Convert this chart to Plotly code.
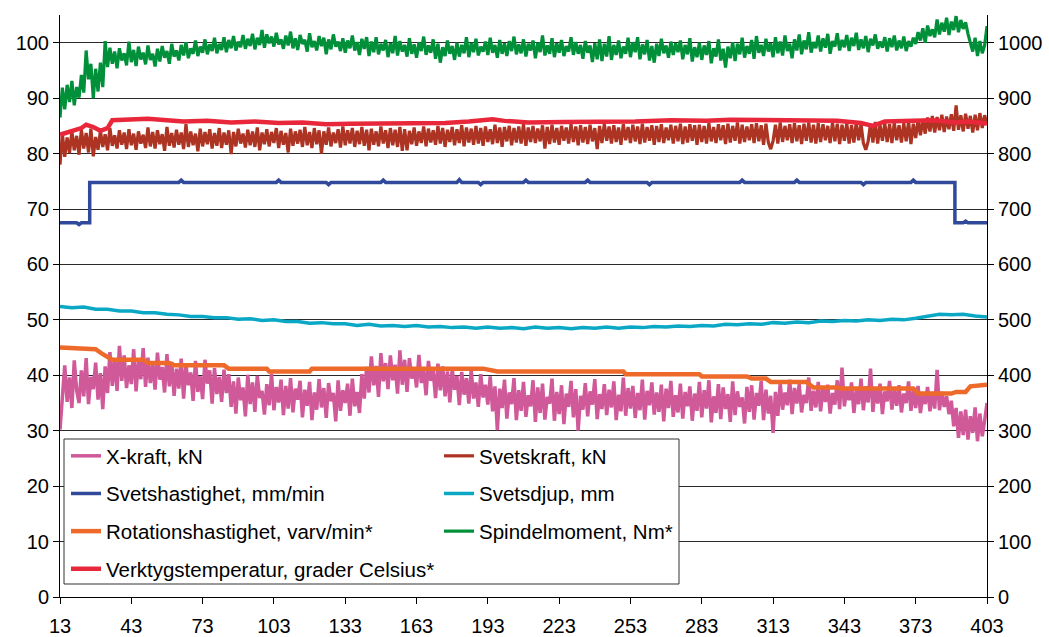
import plotly.graph_objects as go

# ---------------- data ----------------
x_all = list(range(13, 404))  # sample index 13..403

x_kraft = [
    30.2, 36.5, 41.8, 35.2, 39.6, 34.1, 42.7, 37.3, 35.0, 40.9,
    36.2, 43.1, 34.8, 39.7, 37.5, 42.3, 35.6, 40.4, 33.9, 41.6,
    36.8, 44.2, 38.1, 42.9, 37.2, 45.3, 39.0, 43.6, 37.7, 41.8,
    38.4, 44.7, 37.1, 42.5, 39.3, 44.9, 37.9, 43.2, 38.6, 42.0,
    37.4, 44.1, 39.2, 41.5, 36.9, 43.8, 38.0, 42.4, 36.3, 41.2,
    37.6, 43.0, 35.8, 41.9, 38.2, 40.5, 35.4, 42.6, 37.0, 39.8,
    35.7, 42.8, 38.5, 40.9, 34.9, 41.3, 36.6, 39.7, 35.2, 41.0,
    36.8, 40.2, 34.3, 38.9, 33.1, 39.6, 35.5, 37.8, 32.6, 40.1,
    34.8, 38.7, 33.4, 39.9, 35.9, 37.2, 32.9, 38.4, 34.6, 40.3,
    33.7, 37.9, 35.1, 39.2, 32.8, 38.1, 34.0, 39.5, 33.3, 37.6,
    35.6, 39.0, 32.4, 37.4, 34.5, 38.8, 31.9, 36.9, 33.8, 39.3,
    34.2, 37.7, 32.3, 38.6, 35.3, 36.8, 31.7, 39.1, 33.6, 37.3,
    35.0, 38.5, 32.7, 39.4, 34.4, 37.0, 33.2, 40.2, 35.8, 41.5,
    36.9, 43.4, 38.2, 41.7, 36.1, 44.0, 38.9, 42.2, 37.5, 43.6,
    39.1, 41.9, 36.7, 44.5, 38.3, 42.8, 37.0, 43.1, 39.4, 41.4,
    37.8, 43.7, 38.6, 41.1, 36.4, 42.6, 39.0, 40.8, 35.9, 42.1,
    37.3, 41.6, 36.2, 40.7, 35.1, 41.2, 37.4, 39.9, 34.6, 40.6,
    36.5, 39.5, 34.9, 41.0, 35.8, 38.7, 34.3, 40.2, 36.0, 38.3,
    34.7, 39.8, 33.5, 38.0, 30.1, 37.6, 34.1, 39.2, 32.2, 36.9,
    34.8, 39.5, 31.9, 37.3, 33.6, 38.8, 32.5, 36.4, 34.4, 39.1,
    31.6, 37.8, 33.2, 38.5, 32.0, 36.1, 34.9, 39.4, 31.8, 37.0,
    33.0, 38.2, 31.2, 36.7, 34.3, 39.0, 32.4, 37.5, 30.0, 36.3,
    33.8, 38.6, 32.6, 37.1, 34.7, 39.3, 32.1, 36.6, 33.9, 38.4,
    32.8, 37.4, 34.2, 38.9, 31.9, 36.5, 33.5, 39.6, 32.7, 37.7,
    34.0, 38.1, 32.3, 36.8, 33.7, 39.2, 32.0, 37.2, 34.6, 38.7,
    32.9, 36.9, 33.4, 38.3, 31.7, 37.6, 34.1, 39.0, 32.5, 36.4,
    33.3, 38.5, 32.2, 37.0, 34.4, 38.0, 31.8, 36.7, 33.6, 38.8,
    32.4, 37.3, 34.0, 39.1, 31.5, 36.2, 33.2, 38.4, 32.1, 37.8,
    33.9, 36.6, 31.6, 38.9, 32.8, 37.1, 34.3, 36.0, 31.3, 37.9,
    33.4, 38.2, 32.0, 36.8, 34.5, 39.0, 31.9, 37.4, 33.1, 36.3,
    29.6, 37.0, 32.7, 38.6, 33.8, 36.9, 34.6, 39.2, 33.0, 37.7,
    34.9, 38.4, 33.3, 36.5, 35.0, 39.6, 33.6, 37.2, 34.2, 38.8,
    33.5, 37.9, 35.2, 38.3, 33.1, 36.8, 34.7, 39.1, 33.9, 41.4,
    34.4, 37.6, 35.5, 38.7, 33.2, 37.3, 34.8, 39.4, 33.7, 38.0,
    35.1, 41.2, 33.4, 37.8, 34.9, 38.5, 33.0, 37.1, 35.3, 39.0,
    33.8, 37.5, 34.5, 38.2, 33.3, 36.7, 35.0, 38.9, 33.6, 37.4,
    34.1, 38.1, 33.2, 36.6, 34.8, 37.9, 33.5, 36.9, 34.0, 41.0,
    33.7, 37.0, 34.3, 36.2, 33.0, 35.4, 30.8, 34.1, 28.7, 33.5,
    29.2, 33.8, 28.4, 32.6, 29.6, 34.2, 28.1, 33.1, 29.0, 31.8,
    35.0,
]

svetskraft = [
    78.0, 83.6, 79.4, 82.9, 80.1, 84.0, 80.6, 83.2, 79.8, 84.3,
    80.9, 83.7, 80.2, 84.5, 79.5, 83.0, 80.7, 84.1, 81.2, 83.5,
    80.6, 84.6, 81.4, 83.3, 80.9, 84.2, 81.6, 83.8, 80.8, 84.4,
    81.5, 83.6, 80.7, 84.0, 81.8, 83.4, 81.0, 84.7, 81.3, 83.9,
    80.9, 84.2, 81.7, 83.5, 80.5, 84.8, 81.4, 83.7, 81.1, 84.3,
    81.6, 83.8, 80.8, 85.3, 81.2, 84.0, 81.5, 83.6, 80.4, 84.5,
    81.3, 83.9, 81.7, 84.4, 80.9, 83.7, 81.4, 84.6, 81.0, 83.8,
    81.6, 84.2, 79.9, 83.9, 81.3, 84.5, 81.8, 83.6, 81.1, 84.3,
    81.5, 84.0, 81.2, 84.7, 80.6, 83.8, 81.7, 84.4, 81.3, 83.9,
    81.9, 84.6, 81.0, 84.1, 81.6, 83.7, 80.2, 84.5, 81.4, 84.0,
    81.8, 84.3, 81.2, 84.8, 81.5, 83.9, 81.0, 84.6, 81.7, 84.2,
    80.0, 84.0, 81.6, 84.7, 81.3, 83.8, 81.9, 84.4, 81.1, 84.9,
    81.5, 84.2, 81.8, 84.6, 81.2, 84.1, 81.7, 84.8, 81.4, 84.3,
    80.6, 84.5, 81.6, 84.0, 81.3, 84.9, 81.8, 84.2, 81.0, 84.6,
    81.5, 84.3, 81.2, 84.8, 80.5, 84.4, 80.6, 84.1, 81.7, 84.7,
    81.4, 84.0, 81.9, 84.9, 81.3, 84.5, 82.0, 84.2, 81.6, 85.0,
    81.8, 84.6, 81.2, 84.3, 82.1, 84.8, 81.5, 84.4, 81.9, 85.1,
    81.3, 84.7, 82.0, 84.5, 81.6, 85.0, 81.8, 84.6, 81.4, 84.9,
    82.1, 84.4, 81.7, 85.2, 81.9, 84.7, 81.2, 84.8, 82.2, 85.0,
    81.5, 84.6, 82.0, 84.9, 81.8, 85.3, 81.4, 84.7, 82.1, 85.0,
    81.9, 84.5, 82.2, 85.1, 80.9, 84.8, 81.7, 85.2, 82.0, 84.6,
    81.6, 85.0, 82.3, 84.7, 81.8, 85.3, 82.1, 84.9, 81.5, 85.1,
    82.0, 84.8, 81.7, 85.2, 82.2, 84.6, 80.8, 85.0, 81.9, 85.4,
    82.3, 84.9, 81.8, 85.1, 82.1, 84.7, 81.6, 85.3, 82.4, 84.8,
    81.9, 85.2, 82.2, 84.9, 81.7, 85.4, 82.0, 84.8, 82.3, 85.1,
    81.6, 85.0, 82.1, 85.3, 81.9, 84.7, 82.4, 85.2, 81.8, 85.0,
    82.2, 85.4, 81.7, 84.9, 82.0, 85.3, 82.3, 85.1, 81.6, 85.2,
    82.1, 85.0, 81.8, 85.5, 82.2, 84.8, 81.9, 85.3, 82.4, 85.1,
    81.7, 85.4, 82.0, 85.0, 82.3, 85.6, 81.8, 85.2, 82.1, 84.9,
    82.4, 85.3, 81.9, 85.5, 82.2, 85.1, 81.6, 85.4, 82.0, 80.8,
    82.3, 85.2, 81.8, 85.6, 82.1, 85.0, 82.4, 85.3, 81.9, 85.5,
    82.2, 85.1, 81.7, 85.4, 82.3, 85.6, 82.0, 85.2, 81.8, 85.5,
    82.1, 85.3, 82.4, 85.0, 81.9, 85.6, 82.2, 85.4, 81.7, 85.2,
    82.3, 85.5, 81.8, 85.1, 82.0, 85.6, 82.4, 85.3, 81.9, 80.7,
    82.2, 85.4, 82.0, 85.7, 81.8, 85.2, 82.3, 85.5, 82.1, 85.3,
    81.9, 85.6, 82.4, 85.1, 82.0, 85.5, 82.2, 85.8, 81.7, 85.4,
    82.8, 86.0, 83.3, 86.2, 83.6, 86.5, 84.0, 86.8, 83.8, 86.6,
    84.2, 87.0, 83.9, 86.7, 84.4, 87.1, 84.1, 88.7, 84.3, 86.9,
    84.0, 87.2, 84.5, 86.8, 83.8, 87.0, 84.2, 87.3, 84.6, 86.9,
    85.5,
]

spindelmoment = [  # Nm (right axis)
    865, 919, 880, 924, 893, 931, 887, 920, 901, 942,
    910, 986, 934, 962, 900, 953, 912, 964, 920, 1003,
    956, 991, 962, 984, 954, 990, 968, 981, 959, 1002,
    965, 987, 958, 993, 970, 982, 961, 995, 969, 980,
    957, 989, 966, 994, 973, 985, 962, 998, 975, 986,
    968, 996, 977, 1001, 972, 990, 980, 1004, 976, 993,
    982, 1006, 979, 997, 985, 1009, 981, 998, 987, 1010,
    983, 1005, 990, 1012, 986, 1002, 992, 1014, 989, 1007,
    994, 1016, 988, 1009, 996, 1023, 991, 1015, 999, 1011,
    993, 1018, 997, 1006, 989, 1013, 995, 1020, 990, 1008,
    987, 1014, 998, 1005, 984, 1017, 992, 1003, 986, 1012,
    994, 1009, 979, 1006, 988, 1015, 993, 1002, 985, 1008,
    982, 1004, 990, 1013, 986, 1001, 978, 1007, 989, 1010,
    976, 1002, 983, 1010, 979, 998, 986, 1005, 974, 999,
    981, 1012, 977, 1003, 984, 996, 975, 1008, 980, 997,
    973, 1001, 985, 1011, 978, 995, 982, 1006, 971, 998,
    964, 992, 976, 1004, 980, 994, 969, 1000, 975, 996,
    981, 1010, 974, 999, 983, 1007, 977, 993, 984, 1002,
    978, 1009, 982, 996, 973, 1005, 980, 999, 976, 1003,
    985, 1011, 979, 997, 981, 1006, 975, 998, 986, 1004,
    972, 1000, 983, 1013, 977, 995, 980, 1008, 974, 999,
    982, 1005, 976, 994, 984, 1010, 978, 1001, 980, 996,
    971, 1003, 982, 995, 965, 999, 970, 1006, 967, 998,
    975, 1012, 969, 996, 978, 1004, 972, 993, 980, 1009,
    974, 1001, 983, 1010, 970, 997, 979, 1005, 968, 994,
    964, 998, 976, 1007, 981, 995, 973, 1002, 978, 999,
    983, 1004, 970, 996, 979, 1008, 966, 992, 974, 1000,
    969, 995, 978, 1003, 963, 990, 975, 1006, 968, 989,
    955, 993, 972, 1001, 967, 998, 979, 1009, 973, 994,
    980, 1005, 971, 1012, 982, 996, 976, 1007, 984, 999,
    974, 1010, 981, 1002, 977, 1013, 985, 998, 972, 1006,
    986, 1015, 979, 1004, 988, 1019, 982, 1001, 990, 1013,
    984, 1008, 991, 1016, 980, 1003, 993, 1017, 986, 1005,
    992, 1014, 985, 1009, 994, 1018, 987, 1006, 990, 1012,
    983, 1007, 995, 1015, 989, 1002, 991, 1010, 984, 1008,
    992, 1013, 986, 1004, 990, 1011, 985, 1003, 993, 1009,
    998, 1019, 1004, 1026, 1000, 1031, 1012, 1024, 1010, 1042,
    1015, 1036, 1020, 1045, 1014, 1038, 1023, 1048, 1019, 1041,
    1025, 1037, 1016, 1000, 984, 1009, 976, 1003, 981, 995,
    1030,
]

x_djup = list(range(13, 404, 5))
svetsdjup = [
    52.4, 52.2, 52.3, 51.9, 51.9, 51.6, 51.6, 51.3, 51.3, 51.0,
    50.9, 50.6, 50.6, 50.4, 50.4, 50.1, 50.2, 49.9, 50.0, 49.7,
    49.7, 49.4, 49.5, 49.3, 49.3, 49.0, 49.2, 48.9, 49.0, 48.8,
    49.0, 48.7, 48.8, 48.6, 48.7, 48.5, 48.7, 48.5, 48.6, 48.4,
    48.7, 48.5, 48.6, 48.4, 48.6, 48.5, 48.7, 48.5, 48.7, 48.6,
    48.8, 48.7, 48.9, 48.8, 49.0, 48.9, 49.2, 49.1, 49.3, 49.2,
    49.5, 49.4, 49.6, 49.5, 49.8, 49.7, 49.9, 49.8, 50.0, 49.9,
    50.1, 50.0, 50.3, 50.7, 51.0, 50.9, 51.0, 50.7, 50.5,
]

x_hast = [13, 20, 21, 22, 25.5, 25.5, 63, 64, 65, 104, 105, 106, 125, 126, 127,
          148, 149, 150, 180, 181, 182, 189, 190, 191, 208, 209, 210, 234, 235, 236,
          260, 261, 262, 299, 300, 301, 322, 323, 324, 350, 351, 352, 371, 372, 373,
          389.5, 389.5, 393, 394, 395, 403]
svetshastighet = [67.5, 67.5, 67.2, 67.5, 67.5, 74.8, 74.8, 75.2, 74.8, 74.8, 75.2, 74.8, 74.8, 74.4, 74.8,
                  74.8, 75.2, 74.8, 74.8, 75.3, 74.8, 74.8, 74.4, 74.8, 74.8, 75.2, 74.8, 74.8, 75.2, 74.8,
                  74.8, 74.4, 74.8, 74.8, 75.2, 74.8, 74.8, 75.2, 74.8, 74.8, 74.4, 74.8, 74.8, 75.2, 74.8,
                  74.8, 67.5, 67.5, 67.8, 67.5, 67.5]

x_rot = [13, 28, 31, 35, 48, 50, 59, 61, 82, 84, 100, 101, 118, 119, 191, 197, 250, 251,
         282, 283, 302, 304, 310, 312, 327, 330, 340, 342, 372, 374, 388, 390, 394, 396, 403]
rotationshastighet = [450, 447, 438, 428, 428, 422, 422, 418, 418, 412, 412, 407, 407, 412, 412, 407, 407, 402,
                      402, 398, 398, 394, 394, 388, 388, 378, 378, 376, 376, 367, 367, 370, 370, 380, 383]

x_temp = [13, 18, 22, 24, 27, 30, 33, 35, 40, 50, 58, 65, 75, 85, 95, 105, 115, 125, 135, 150,
          165, 175, 185, 195, 200, 210, 225, 240, 255, 270, 285, 295, 310, 325, 340, 350, 355,
          360, 370, 380, 390, 395, 403]
verktygstemp = [834, 840, 846, 852, 848, 841, 846, 860, 861, 863, 860, 858, 859, 856, 858, 855, 856,
                853, 854, 854, 853, 855, 858, 862, 859, 856, 857, 857, 858, 860, 859, 861, 860, 859,
                859, 855, 850, 858, 859, 860, 856, 858, 854]

x_ticks = list(range(13, 404, 30))

# ---------------- figure ----------------
FONT = "Liberation Sans, Arial, sans-serif"
FS = 20
fig = go.Figure()


def add(name, x, y, color, width, axis, legend, rank):
    fig.add_trace(go.Scatter(
        x=x, y=y, name=name, mode="lines", yaxis=axis,
        line=dict(color=color, width=width), legend=legend,
        legendgroup=name, legendrank=rank, hoverinfo="skip"))


add("X-kraft, kN", x_all, x_kraft, "#D0599A", 3.5, "y", "legend", 1)
add("Svetskraft, kN", x_all, svetskraft, "#AD3322", 3.2, "y", "legend2", 1)
add("Svetsdjup, mm", x_djup, svetsdjup, "#0BA8C6", 3.5, "y", "legend2", 2)
add("Svetshastighet, mm/min", x_hast, svetshastighet, "#30499A", 3.5, "y", "legend", 2)
add("Rotationshastighet, varv/min*", x_rot, rotationshastighet, "#EE6A2B", 4.5, "y2", "legend", 3)
add("Spindelmoment, Nm*", x_all, spindelmoment, "#00903A", 3.2, "y2", "legend2", 3)
add("Verktygstemperatur, grader Celsius*", x_temp, verktygstemp, "#E8283A", 4.5, "y2", "legend", 4)

W, H = 1049, 637
ML, MR, MT, MB = 60, 62, 15, 40
pw, ph = W - ML - MR, H - MT - MB


def px2x(px):
    return (px - ML) / pw


def py2y(py):
    return (H - MB - py) / ph


legend_common = dict(
    orientation="v", xanchor="left", yanchor="top", bgcolor="rgba(0,0,0,0)",
    borderwidth=0, tracegroupgap=8, itemwidth=30,
    font=dict(family=FONT, size=20.5, color="#000000"),
)

tickfont = dict(family=FONT, size=FS, color="#000000")

fig.update_layout(
    width=W, height=H,
    margin=dict(l=ML, r=MR, t=MT, b=MB, pad=0, autoexpand=False),
    paper_bgcolor="white", plot_bgcolor="white",
    font=dict(family=FONT, size=FS, color="#000000"),
    showlegend=True,
    legend=dict(x=px2x(66), y=py2y(436), **legend_common),
    legend2=dict(x=px2x(439), y=py2y(436), **legend_common),
    xaxis=dict(
        range=[13, 403], tickmode="array", tickvals=x_ticks, automargin=False,
        ticks="outside", ticklen=6, tickcolor="#000000", ticklabelstandoff=5,
        showline=True, linecolor="#000000", linewidth=1,
        showgrid=False, zeroline=False, tickfont=tickfont,
    ),
    yaxis=dict(
        range=[0, 105], tickmode="array", tickvals=list(range(0, 101, 10)), automargin=False,
        ticks="outside", ticklen=6, tickcolor="#000000",
        showline=True, linecolor="#000000", linewidth=1,
        showgrid=True, gridcolor="#2a2a2a", gridwidth=1, zeroline=False, tickfont=tickfont,
    ),
    yaxis2=dict(
        range=[0, 1050], tickmode="array", tickvals=list(range(0, 1001, 100)), automargin=False,
        overlaying="y", side="right",
        ticks="outside", ticklen=6, tickcolor="#000000",
        showline=True, linecolor="#000000", linewidth=1,
        showgrid=False, zeroline=False, tickfont=tickfont,
    ),
    shapes=[dict(
        type="rect", xref="paper", yref="paper", layer="above",
        x0=px2x(64), x1=px2x(679), y0=py2y(584), y1=py2y(439),
        line=dict(color="#333333", width=1), fillcolor="white",
    )],
)

fig.write_html(
    "out.html",
    config={"displayModeBar": False},
    post_script="document.body.style.margin='0';document.body.style.overflow='hidden';",
)
